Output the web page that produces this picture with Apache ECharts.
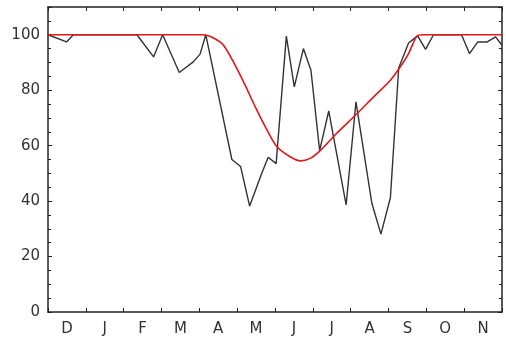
<!DOCTYPE html>
<html>
<head>
<meta charset="utf-8">
<script src="https://cdn.jsdelivr.net/npm/echarts@6/dist/echarts.min.js"></script>
<style>html,body{margin:0;padding:0;background:#fff;}#c{width:506px;height:342px;}</style>
</head>
<body>
<div id="c"></div>
<script>
const months = ['D','J','F','M','A','M','J','J','A','S','O','N'];
const yTicks = [0, 20, 40, 60, 80, 100];
// observed series: x in months from start of December, y value
const obsX = [0, 0.49, 0.67, 2.35, 2.79, 3.03, 3.47, 3.84, 4.02, 4.17, 4.86, 5.09, 5.33, 5.65, 5.82, 6.03, 6.30, 6.51, 6.75, 6.95, 7.18, 7.42, 7.88, 8.14, 8.56, 8.80, 9.05, 9.27, 9.53, 9.77, 9.98, 10.19, 10.93, 11.14, 11.36, 11.61, 11.83, 12];
const obsY = [100, 97.4, 100, 100, 92, 100, 86.4, 90.2, 93, 100, 55, 52.5, 38.2, 50, 55.8, 53.5, 99.5, 81.2, 95, 87.2, 58.2, 72.5, 38.6, 75.8, 39.2, 28.1, 41.2, 88, 97, 99.6, 94.7, 100, 100, 93.2, 97.4, 97.4, 99.2, 96.2];
// fitted curve
const fitX = [0, 4.1, 4.35, 4.64, 5.08, 5.52, 5.79, 6.05, 6.4, 6.67, 6.93, 7.18, 7.6, 8.17, 8.6, 9.05, 9.31, 9.53, 9.75, 9.9, 12];
const fitY = [100, 100, 99, 96.2, 85.4, 72.8, 65.6, 59.6, 56, 54.5, 55.4, 58, 64, 71.6, 77.5, 83.6, 88.4, 93.2, 99.5, 100, 100];

const obs = obsX.map((x, i) => [x, obsY[i]]);
const fit = fitX.map((x, i) => [x, fitY[i]]);

const axisLine = {show: true, onZero: false, lineStyle: {color: '#222', width: 1.5}};
const labelFont = {color: '#333', fontSize: 15, fontFamily: 'DejaVu Sans'};
const chart = echarts.init(document.getElementById('c'), null, {renderer: 'canvas'});
chart.setOption({
  animation: false,
  backgroundColor: '#fff',
  grid: {left: 48, right: 4, top: 7, bottom: 30},
  xAxis: [
    {type: 'category', data: months, boundaryGap: true, position: 'bottom',
     axisLine: axisLine, axisTick: {show: true, inside: true, length: 4, interval: 0, lineStyle: {color: '#222'}},
     axisLabel: Object.assign({margin: 10, interval: 0}, labelFont), splitLine: {show: false}},
    {type: 'category', data: months, boundaryGap: true, position: 'top',
     axisLine: axisLine, axisTick: {show: true, inside: true, length: 4, interval: 0, lineStyle: {color: '#222'}},
     axisLabel: {show: false}, splitLine: {show: false}},
    {type: 'value', min: 0, max: 12, show: false}
  ],
  yAxis: [
    {type: 'value', min: 0, max: 110, interval: 20, position: 'left',
     axisLine: axisLine, axisTick: {show: true, inside: true, length: 4, lineStyle: {color: '#222'}},
     minorTick: {show: true, splitNumber: 4, length: 3, lineStyle: {color: '#222'}},
     axisLabel: Object.assign({margin: 8, showMaxLabel: false,
       formatter: v => (yTicks.indexOf(v) >= 0 ? String(v) : '')}, labelFont),
     splitLine: {show: false}},
    {type: 'value', min: 0, max: 110, interval: 20, position: 'right',
     axisLine: axisLine, axisTick: {show: true, inside: true, length: 4, lineStyle: {color: '#222'}},
     minorTick: {show: true, splitNumber: 4, length: 3, lineStyle: {color: '#222'}},
     axisLabel: {show: false}, splitLine: {show: false}}
  ],
  series: [
    {type: 'line', xAxisIndex: 2, yAxisIndex: 0, data: obs, showSymbol: false,
     lineStyle: {color: '#333', width: 1.4}, z: 2},
    {type: 'line', xAxisIndex: 2, yAxisIndex: 0, data: fit, showSymbol: false,
     smooth: 0.3,
     lineStyle: {color: '#e3161c', width: 1.6}, z: 3}
  ]
});
</script>
</body>
</html>
